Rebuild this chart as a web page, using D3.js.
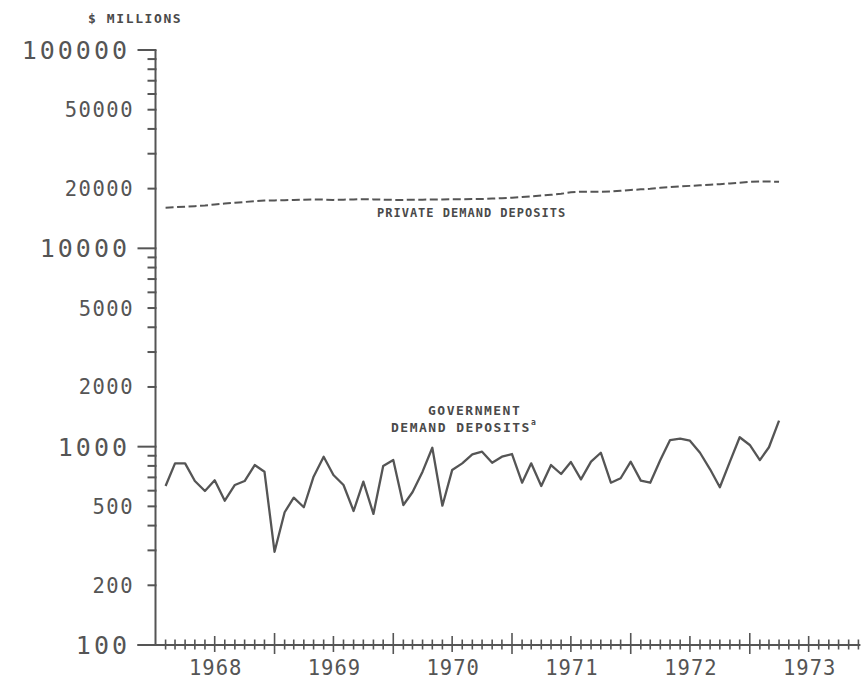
<!DOCTYPE html>
<html>
<head>
<meta charset="utf-8">
<script src="https://cdn.jsdelivr.net/npm/d3@7"></script>
<style>
  body { margin: 0; background: #fff; }
  text { font-family: "DejaVu Sans Mono", monospace; fill: #555; }
  .note { font-weight: bold; fill: #4a4a4a; }
</style>
</head>
<body>
<div id="chart"></div>
<script>
// monthly observations, Jan 1968 - Mar 1973, plotted at month end
const firstMonth = new Date(1968, 1, 1);
const lastMonth = new Date(1973, 3, 1);

const government = [
  633, 824, 824, 671, 598, 677, 534, 641, 671, 808, 748, 295,
  467, 553, 495, 706, 890, 720, 641, 474, 666, 458, 799, 856,
  508, 589, 748, 988, 504, 762, 824, 915, 943, 830, 890, 918,
  658, 824, 633, 808, 728, 837, 684, 840, 932, 658, 693, 840,
  674, 658, 856, 1080, 1097, 1072, 932, 769, 624, 840, 1115, 1020,
  856, 993, 1352
];

const privateDeposits = [
  16030, 16120, 16220, 16310, 16440, 16640, 16810, 16970, 17130, 17290, 17410, 17450,
  17500, 17550, 17600, 17650, 17600, 17550, 17600, 17650, 17700, 17650, 17600, 17550,
  17550, 17600, 17600, 17650, 17650, 17680, 17670, 17710, 17730, 17810, 17900, 18000,
  18150, 18290, 18450, 18620, 18830, 19160, 19300, 19300, 19300, 19340, 19500, 19690,
  19830, 19970, 20200, 20340, 20530, 20650, 20800, 20920, 21060, 21240, 21430, 21630,
  21710, 21710, 21660
];

const decadeTicks = [100, 1000, 10000, 100000];
const labelTicks = [200, 500, 2000, 5000, 20000, 50000];
const minorTicks = [300, 400, 600, 700, 800, 900, 3000, 4000, 6000, 7000, 8000, 9000,
  30000, 40000, 60000, 70000, 80000, 90000];
const years = [1968, 1969, 1970, 1971, 1972, 1973];

const width = 865;
const height = 681;
const axisX = 155.5;
const axisY = 645;

const svg = d3.select('#chart')
  .append('svg')
  .attr('width', width)
  .attr('height', height)

const months = d3.timeMonth.range(firstMonth, d3.timeMonth.offset(lastMonth, 1));

const xScale = d3.scaleTime()
  .domain([new Date(1968, 0, 1), new Date(1974, 0, 1)])
  .range([axisX, 868.5])

const yScale = d3.scaleLog()
  .domain([100, 100000])
  .range([axisY, 50])

const ink = '#555';

// y axis
const yAxis = svg.append('g').attr('id', 'y-axis');

yAxis.append('line')
  .attr('x1', axisX).attr('x2', axisX)
  .attr('y1', yScale(100000)).attr('y2', axisY)
  .style('stroke', ink).style('stroke-width', 2)

yAxis.selectAll('.decade')
  .data(decadeTicks)
  .enter()
  .append('line')
  .attr('x1', axisX - 18).attr('x2', axisX + 1)
  .attr('y1', d => yScale(d)).attr('y2', d => yScale(d))
  .style('stroke', ink).style('stroke-width', 2)

yAxis.selectAll('.small')
  .data(labelTicks.concat(minorTicks))
  .enter()
  .append('line')
  .attr('x1', axisX - 8).attr('x2', axisX + 1)
  .attr('y1', d => yScale(d)).attr('y2', d => yScale(d))
  .style('stroke', ink).style('stroke-width', 2)

yAxis.selectAll('.decade-label')
  .data(decadeTicks)
  .enter()
  .append('text')
  .attr('x', 130)
  .attr('y', d => yScale(d) + 9)
  .style('text-anchor', 'end')
  .style('font-size', '25px')
  .style('letter-spacing', '3px')
  .text(d => d)

yAxis.selectAll('.small-label')
  .data(labelTicks)
  .enter()
  .append('text')
  .attr('x', 134)
  .attr('y', d => yScale(d) + 7.5)
  .style('text-anchor', 'end')
  .style('font-size', '20.5px')
  .style('letter-spacing', '1.5px')
  .text(d => d)

// x axis
const xAxis = svg.append('g').attr('id', 'x-axis');

xAxis.append('line')
  .attr('x1', axisX - 18).attr('x2', xScale(new Date(1973, 11, 1)) + 2)
  .attr('y1', axisY).attr('y2', axisY)
  .style('stroke', ink).style('stroke-width', 2)

const monthTicks = d3.timeMonth.range(new Date(1968, 1, 1), new Date(1973, 11, 2));

xAxis.selectAll('.month')
  .data(monthTicks)
  .enter()
  .append('line')
  .attr('x1', d => xScale(d)).attr('x2', d => xScale(d))
  .attr('y1', d => d.getMonth() === 0 ? axisY - 12 : d.getMonth() === 6 ? axisY - 9 : axisY - 5.5)
  .attr('y2', d => d.getMonth() === 0 ? axisY + 9 : d.getMonth() === 6 ? axisY + 7 : axisY + 4.5)
  .style('stroke', ink).style('stroke-width', 1.6)

xAxis.selectAll('.year')
  .data(years)
  .enter()
  .append('text')
  .attr('x', d => xScale(new Date(d, 6, 1)) + 1)
  .attr('y', 675)
  .style('text-anchor', 'middle')
  .style('font-size', '20.5px')
  .style('letter-spacing', '1px')
  .text(d => d)

// series
const line = (values) => d3.line()
  .x((d, i) => xScale(months[i]))
  .y(d => yScale(d))(values)

svg.append('path')
  .attr('d', line(privateDeposits))
  .style('fill', 'none')
  .style('stroke', ink)
  .style('stroke-width', 2)
  .style('stroke-dasharray', '8,3.5')

svg.append('path')
  .attr('d', line(government))
  .style('fill', 'none')
  .style('stroke', ink)
  .style('stroke-width', 2.3)
  .style('stroke-linejoin', 'round')

// labels
svg.append('text')
  .attr('class', 'note')
  .attr('x', 88)
  .attr('y', 22.5)
  .style('font-size', '13px')
  .style('letter-spacing', '1.6px')
  .text('$ MILLIONS')

svg.append('text')
  .attr('class', 'note')
  .attr('x', 377)
  .attr('y', 217)
  .style('font-size', '12px')
  .style('letter-spacing', '1px')
  .text('PRIVATE DEMAND DEPOSITS')

svg.append('text')
  .attr('class', 'note')
  .attr('x', 428)
  .attr('y', 415)
  .style('font-size', '13px')
  .style('letter-spacing', '1.5px')
  .text('GOVERNMENT')

const govLabel = svg.append('text')
  .attr('class', 'note')
  .attr('x', 391)
  .attr('y', 431.5)
  .style('font-size', '13px')
  .style('letter-spacing', '1.5px')
  .text('DEMAND DEPOSITS')

govLabel.append('tspan')
  .attr('dy', -7)
  .style('font-size', '8px')
  .style('letter-spacing', '0px')
  .text('a')
</script>
</body>
</html>
